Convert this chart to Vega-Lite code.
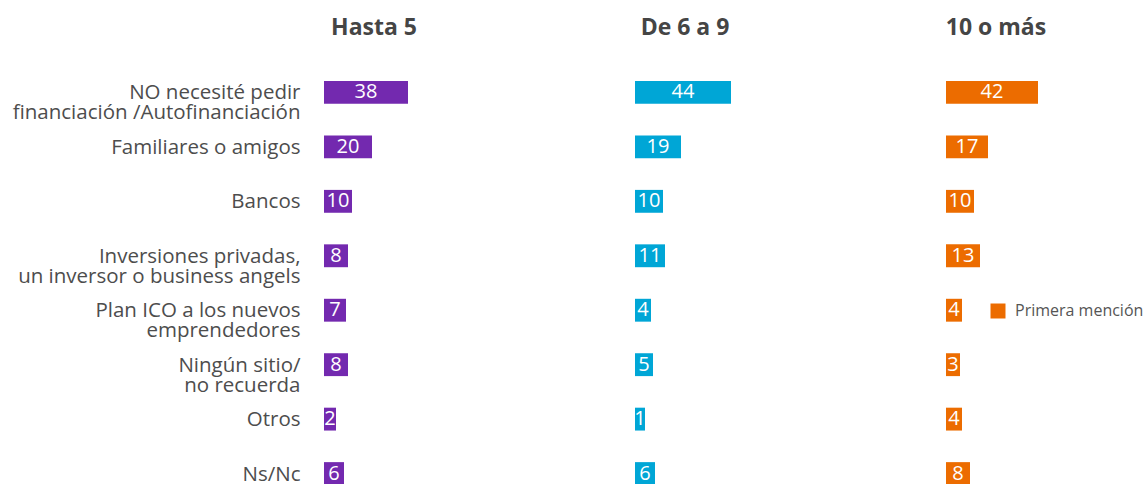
{
  "$schema": "https://vega.github.io/schema/vega-lite/v6.json",
  "padding": {"left": 12, "top": 17, "right": 0, "bottom": 0},
  "background": "white",
  "config": {
    "view": {"stroke": null},
    "font": "Open Sans",
    "concat": {"spacing": 210},
    "title": {"font": "Open Sans", "fontSize": 23, "fontWeight": "bold", "color": "#454545", "anchor": "middle", "baseline": "alphabetic", "offset": 41}
  },
  "data": {
    "values": [
      {"categoria": "NO necesité pedir|financiación /Autofinanciación", "grupo": "Hasta 5", "valor": 38, "serie": "Primera mención"},
      {"categoria": "Familiares o amigos", "grupo": "Hasta 5", "valor": 20, "serie": "Primera mención"},
      {"categoria": "Bancos", "grupo": "Hasta 5", "valor": 10, "serie": "Primera mención"},
      {"categoria": "Inversiones privadas,|un inversor o business angels", "grupo": "Hasta 5", "valor": 8, "serie": "Primera mención"},
      {"categoria": "Plan ICO a los nuevos|emprendedores", "grupo": "Hasta 5", "valor": 7, "serie": "Primera mención"},
      {"categoria": "Ningún sitio/|no recuerda", "grupo": "Hasta 5", "valor": 8, "serie": "Primera mención"},
      {"categoria": "Otros", "grupo": "Hasta 5", "valor": 2, "serie": "Primera mención"},
      {"categoria": "Ns/Nc", "grupo": "Hasta 5", "valor": 6, "serie": "Primera mención"},
      {"categoria": "NO necesité pedir|financiación /Autofinanciación", "grupo": "De 6 a 9", "valor": 44, "serie": "Primera mención"},
      {"categoria": "Familiares o amigos", "grupo": "De 6 a 9", "valor": 19, "serie": "Primera mención"},
      {"categoria": "Bancos", "grupo": "De 6 a 9", "valor": 10, "serie": "Primera mención"},
      {"categoria": "Inversiones privadas,|un inversor o business angels", "grupo": "De 6 a 9", "valor": 11, "serie": "Primera mención"},
      {"categoria": "Plan ICO a los nuevos|emprendedores", "grupo": "De 6 a 9", "valor": 4, "serie": "Primera mención"},
      {"categoria": "Ningún sitio/|no recuerda", "grupo": "De 6 a 9", "valor": 5, "serie": "Primera mención"},
      {"categoria": "Otros", "grupo": "De 6 a 9", "valor": 1, "serie": "Primera mención"},
      {"categoria": "Ns/Nc", "grupo": "De 6 a 9", "valor": 6, "serie": "Primera mención"},
      {"categoria": "NO necesité pedir|financiación /Autofinanciación", "grupo": "10 o más", "valor": 42, "serie": "Primera mención"},
      {"categoria": "Familiares o amigos", "grupo": "10 o más", "valor": 17, "serie": "Primera mención"},
      {"categoria": "Bancos", "grupo": "10 o más", "valor": 10, "serie": "Primera mención"},
      {"categoria": "Inversiones privadas,|un inversor o business angels", "grupo": "10 o más", "valor": 13, "serie": "Primera mención"},
      {"categoria": "Plan ICO a los nuevos|emprendedores", "grupo": "10 o más", "valor": 4, "serie": "Primera mención"},
      {"categoria": "Ningún sitio/|no recuerda", "grupo": "10 o más", "valor": 3, "serie": "Primera mención"},
      {"categoria": "Otros", "grupo": "10 o más", "valor": 4, "serie": "Primera mención"},
      {"categoria": "Ns/Nc", "grupo": "10 o más", "valor": 8, "serie": "Primera mención"}
    ]
  },
  "hconcat": [
    {
      "title": "Hasta 5",
      "width": 100,
      "height": 404,
      "transform": [{"filter": "datum.grupo === 'Hasta 5'"}],
      "encoding": {
        "y": {"field": "categoria", "type": "nominal", "sort": null,
              "scale": {"paddingInner": 0.58, "paddingOuter": 0},
              "axis": {"title": null, "domain": false, "ticks": false, "labelPadding": 24,
                       "labelExpr": "split(datum.label, '|')", "labelFontSize": 20.5, "labelColor": "#4d4d4d",
                       "labelBaseline": "alphabetic", "labelOffset": 7, "labelLineHeight": 20, "labelFont": "Open Sans", "labelLimit": 400}}
      },
      "layer": [
        {"mark": {"type": "bar", "color": "#7329AF"},
         "encoding": {"x": {"field": "valor", "type": "quantitative", "scale": {"domain": [-4, 46]}, "axis": null}, "x2": {"datum": -4}}},
        {"mark": {"type": "text", "color": "white", "fontSize": 20, "baseline": "middle", "align": "center"},
         "encoding": {"x": {"field": "valor", "type": "quantitative", "scale": {"domain": [-4, 96]}, "axis": null},
                      "text": {"field": "valor", "type": "quantitative"}}}
      ],
      "resolve": {"scale": {"x": "independent"}}
    },
    {
      "title": "De 6 a 9",
      "width": 100,
      "height": 404,
      "transform": [{"filter": "datum.grupo === 'De 6 a 9'"}],
      "encoding": {
        "y": {"field": "categoria", "type": "nominal", "sort": null,
              "scale": {"paddingInner": 0.58, "paddingOuter": 0}, "axis": null}
      },
      "layer": [
        {"mark": {"type": "bar", "color": "#00A6D6"},
         "encoding": {"x": {"field": "valor", "type": "quantitative", "scale": {"domain": [-4, 46]}, "axis": null}, "x2": {"datum": -4}}},
        {"mark": {"type": "text", "color": "white", "fontSize": 20, "baseline": "middle", "align": "center"},
         "encoding": {"x": {"field": "valor", "type": "quantitative", "scale": {"domain": [-4, 96]}, "axis": null},
                      "text": {"field": "valor", "type": "quantitative"}}}
      ],
      "resolve": {"scale": {"x": "independent"}}
    },
    {
      "title": "10 o más",
      "width": 100,
      "height": 404,
      "transform": [{"filter": "datum.grupo === '10 o más'"}],
      "encoding": {
        "y": {"field": "categoria", "type": "nominal", "sort": null,
              "scale": {"paddingInner": 0.58, "paddingOuter": 0}, "axis": null}
      },
      "layer": [
        {"mark": {"type": "bar"},
         "encoding": {"x": {"field": "valor", "type": "quantitative", "scale": {"domain": [-4, 46]}, "axis": null}, "x2": {"datum": -4},
          "color": {"field": "serie", "type": "nominal", "scale": {"range": ["#EC6C00"]},
                    "legend": {"title": null, "orient": "none", "legendX": 666, "legendY": 222,
                               "symbolType": "square", "symbolSize": 225, "symbolStrokeWidth": 0, "symbolOpacity": 1,
                               "labelFontSize": 16, "labelColor": "#555555", "labelFont": "Open Sans", "labelOffset": 9}}}},
        {"mark": {"type": "text", "color": "white", "fontSize": 20, "baseline": "middle", "align": "center"},
         "encoding": {"x": {"field": "valor", "type": "quantitative", "scale": {"domain": [-4, 96]}, "axis": null},
                      "text": {"field": "valor", "type": "quantitative"}}}
      ],
      "resolve": {"scale": {"x": "independent"}}
    }
  ]
}
